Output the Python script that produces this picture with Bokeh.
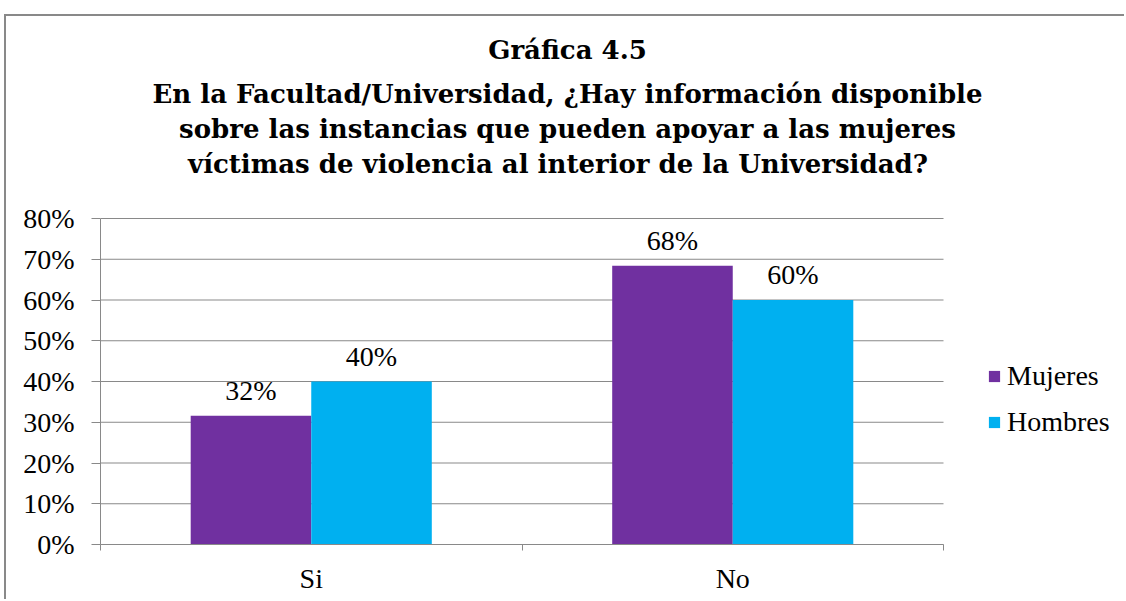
from bokeh.plotting import figure
from bokeh.models import (ColumnDataSource, Label, Legend, LegendItem, LabelSet,
                          FixedTicker, NumeralTickFormatter, Range1d)
from bokeh.embed import file_html
from bokeh.resources import INLINE

categories = ["Si", "No"]
series_names = ["Mujeres", "Hombres"]
mujeres = [0.316, 0.684]
hombres = [0.40, 0.60]
mujeres_labels = ["32%", "68%"]
hombres_labels = ["40%", "60%"]
y_ticks = [0.0, 0.1, 0.2, 0.3, 0.4, 0.5, 0.6, 0.7, 0.8]
title_lines = [
    "Gráfica 4.5",
    "En la Facultad/Universidad, ¿Hay información disponible",
    "sobre las instancias que pueden apoyar a las mujeres",
    " víctimas de violencia al interior de la Universidad?",
]
colors = ["#7030A0", "#00B0F0"]

FONT = "Liberation Serif"
TFONT = "DejaVu Serif"
GRAY = "#898989"

# layout (pixels): the frame covers the whole canvas right of the y axis;
# the value area occupies PLOT_W x PLOT_H of it, the rest holds title and legend
CANVAS_W, CANVAS_H = 1120, 585
LEFT = 94
PLOT_W, PLOT_H = 843, 326
BOTTOM = 57
frame_w = CANVAS_W - LEFT
frame_h = CANVAS_H - BOTTOM
y_max = y_ticks[-1]
x_max = len(categories)

centers = [i + 0.5 for i in range(len(categories))]
bar_w = 0.286

src_m = ColumnDataSource(dict(x=[c - bar_w / 2 for c in centers], top=mujeres, label=mujeres_labels))
src_h = ColumnDataSource(dict(x=[c + bar_w / 2 for c in centers], top=hombres, label=hombres_labels))

p = figure(width=CANVAS_W, height=CANVAS_H, output_backend="svg", toolbar_location=None,
           title=None,
           x_range=Range1d(0, x_max * frame_w / PLOT_W),
           y_range=Range1d(0, y_max * frame_h / PLOT_H),
           min_border_left=LEFT, min_border_right=0, min_border_top=0, min_border_bottom=BOTTOM)
p.styles = {"margin-left": "4px", "margin-top": "14px",
            "border-left": f"2px solid {GRAY}", "border-top": f"2px solid {GRAY}"}
p.outline_line_color = None
p.background_fill_color = "white"
p.border_fill_color = "white"
p.xgrid.visible = False
p.ygrid.visible = False

# horizontal gridlines limited to the value area
p.segment(x0=[0] * len(y_ticks), x1=[x_max] * len(y_ticks), y0=y_ticks, y1=y_ticks,
          line_color=GRAY, line_width=1, level="underlay")

r_m = p.vbar(x="x", top="top", width=bar_w, source=src_m, fill_color=colors[0], line_color=None)
r_h = p.vbar(x="x", top="top", width=bar_w, source=src_h, fill_color=colors[1], line_color=None)

for src in (src_m, src_h):
    p.add_layout(LabelSet(x="x", y="top", text="label", source=src, text_align="center",
                          text_baseline="alphabetic", y_offset=16, text_font=FONT,
                          text_font_size="28px", text_color="black"))

# axes
p.yaxis.bounds = (0, y_max)
p.yaxis.ticker = FixedTicker(ticks=y_ticks)
p.yaxis.formatter = NumeralTickFormatter(format="0%")
p.yaxis.axis_line_color = GRAY
p.yaxis.major_tick_line_color = GRAY
p.yaxis.major_tick_out = 9
p.yaxis.major_tick_in = 0
p.yaxis.minor_tick_line_color = None
p.yaxis.major_label_text_font = FONT
p.yaxis.major_label_text_font_size = "28px"
p.yaxis.major_label_text_color = "black"
p.yaxis.major_label_standoff = 17

p.xaxis.bounds = (0, x_max)
p.xaxis.ticker = FixedTicker(ticks=centers, minor_ticks=[float(i) for i in range(len(categories) + 1)])
p.xaxis.major_label_overrides = {c: cat for c, cat in zip(centers, categories)}
p.xaxis.axis_line_color = GRAY
p.xaxis.major_tick_line_color = None
p.xaxis.major_tick_out = 0
p.xaxis.major_tick_in = 0
p.xaxis.minor_tick_line_color = GRAY
p.xaxis.minor_tick_out = 6
p.xaxis.minor_tick_in = 0
p.xaxis.major_label_text_font = FONT
p.xaxis.major_label_text_font_size = "28px"
p.xaxis.major_label_text_color = "black"
p.xaxis.major_label_standoff = 12

# title lines (screen units relative to the plot frame, measured from its bottom)
title_y = [495, 451, 416, 381]
title_x = [467, 467, 467, 462]
for txt, tx, ty in zip(title_lines, title_x, title_y):
    p.add_layout(Label(x=tx, y=ty, x_units="screen", y_units="screen", text=txt,
                       text_align="center", text_baseline="alphabetic", text_font=TFONT,
                       text_font_size="26px", text_font_style="bold", text_color="black"))

legend = Legend(items=[LegendItem(label=series_names[0], renderers=[r_m]),
                       LegendItem(label=series_names[1], renderers=[r_h])],
                location=(887, 106), orientation="vertical", border_line_color=None,
                background_fill_alpha=0, padding=0, margin=0, spacing=14,
                glyph_width=14, glyph_height=14, label_standoff=6,
                label_text_font=FONT, label_text_font_size="28px", label_text_color="black")
p.add_layout(legend, "center")

open("out.html", "w").write(file_html(p, INLINE))
